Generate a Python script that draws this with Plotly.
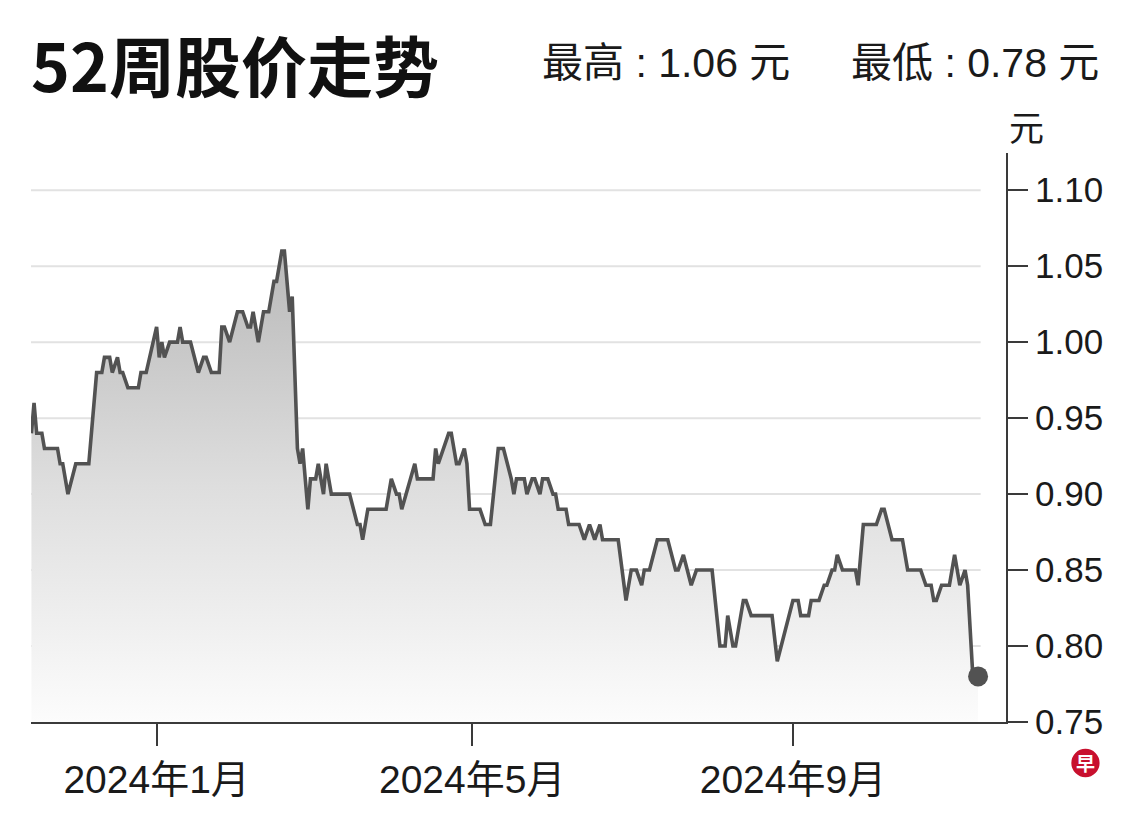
import plotly.graph_objects as go

title_text = "52周股价走势"
high_text = "最高 : 1.06 元"
low_text = "最低 : 0.78 元"
unit_text = "元"

dates = [
    "2023-11-14", "2023-11-15", "2023-11-16", "2023-11-18", "2023-11-19", "2023-11-24", "2023-11-25",
    "2023-11-26", "2023-11-28", "2023-12-01", "2023-12-06", "2023-12-09", "2023-12-11", "2023-12-12",
    "2023-12-14", "2023-12-15", "2023-12-17", "2023-12-18", "2023-12-19", "2023-12-21", "2023-12-25",
    "2023-12-26", "2023-12-28", "2024-01-01", "2024-01-02", "2024-01-03", "2024-01-04", "2024-01-06",
    "2024-01-09", "2024-01-10", "2024-01-11", "2024-01-14", "2024-01-17", "2024-01-19", "2024-01-20",
    "2024-01-22", "2024-01-25", "2024-01-26", "2024-01-27", "2024-01-29", "2024-02-01", "2024-02-03",
    "2024-02-05", "2024-02-06", "2024-02-07", "2024-02-09", "2024-02-11", "2024-02-13", "2024-02-15",
    "2024-02-16", "2024-02-18", "2024-02-19", "2024-02-21", "2024-02-22", "2024-02-24", "2024-02-25",
    "2024-02-26", "2024-02-28", "2024-02-29", "2024-03-02", "2024-03-03", "2024-03-05", "2024-03-06",
    "2024-03-08", "2024-03-15", "2024-03-18", "2024-03-19", "2024-03-20", "2024-03-22", "2024-03-29",
    "2024-03-31", "2024-04-02", "2024-04-03", "2024-04-04", "2024-04-09", "2024-04-10", "2024-04-16",
    "2024-04-17", "2024-04-18", "2024-04-22", "2024-04-23", "2024-04-25", "2024-04-26", "2024-04-28",
    "2024-04-29", "2024-04-30", "2024-05-04", "2024-05-06", "2024-05-08", "2024-05-11", "2024-05-13",
    "2024-05-16", "2024-05-17", "2024-05-18", "2024-05-21", "2024-05-22", "2024-05-24", "2024-05-25",
    "2024-05-27", "2024-05-28", "2024-05-30", "2024-06-01", "2024-06-02", "2024-06-03", "2024-06-06",
    "2024-06-07", "2024-06-11", "2024-06-13", "2024-06-15", "2024-06-17", "2024-06-19", "2024-06-20",
    "2024-06-26", "2024-06-29", "2024-07-01", "2024-07-03", "2024-07-05", "2024-07-06", "2024-07-08",
    "2024-07-11", "2024-07-15", "2024-07-18", "2024-07-19", "2024-07-21", "2024-07-24", "2024-07-26",
    "2024-08-01", "2024-08-04", "2024-08-06", "2024-08-07", "2024-08-09", "2024-08-10", "2024-08-13",
    "2024-08-14", "2024-08-16", "2024-08-24", "2024-08-26", "2024-09-01", "2024-09-03", "2024-09-04",
    "2024-09-07", "2024-09-08", "2024-09-11", "2024-09-13", "2024-09-14", "2024-09-16", "2024-09-17",
    "2024-09-18", "2024-09-20", "2024-09-25", "2024-09-26", "2024-09-28", "2024-10-03", "2024-10-05",
    "2024-10-06", "2024-10-09", "2024-10-13", "2024-10-15", "2024-10-20", "2024-10-22", "2024-10-24",
    "2024-10-25", "2024-10-26", "2024-10-28", "2024-10-31", "2024-11-02", "2024-11-04", "2024-11-06",
    "2024-11-07", "2024-11-09", "2024-11-11",
]

prices = [
    0.94, 0.96, 0.94, 0.94, 0.93, 0.93, 0.92,
    0.92, 0.90, 0.92, 0.92, 0.98, 0.98, 0.99,
    0.99, 0.98, 0.99, 0.98, 0.98, 0.97, 0.97,
    0.98, 0.98, 1.01, 0.99, 1.00, 0.99, 1.00,
    1.00, 1.01, 1.00, 1.00, 0.98, 0.99, 0.99,
    0.98, 0.98, 1.01, 1.01, 1.00, 1.02, 1.02,
    1.01, 1.01, 1.02, 1.00, 1.02, 1.02, 1.04,
    1.04, 1.06, 1.06, 1.02, 1.03, 0.93, 0.92,
    0.93, 0.89, 0.91, 0.91, 0.92, 0.90, 0.92,
    0.90, 0.90, 0.88, 0.88, 0.87, 0.89, 0.89,
    0.91, 0.90, 0.90, 0.89, 0.92, 0.91, 0.91,
    0.93, 0.92, 0.94, 0.94, 0.92, 0.92, 0.93,
    0.92, 0.89, 0.89, 0.88, 0.88, 0.93, 0.93,
    0.91, 0.90, 0.91, 0.91, 0.90, 0.91, 0.91,
    0.90, 0.91, 0.91, 0.90, 0.90, 0.89, 0.89,
    0.88, 0.88, 0.87, 0.88, 0.87, 0.88, 0.87,
    0.87, 0.83, 0.85, 0.85, 0.84, 0.85, 0.85,
    0.87, 0.87, 0.85, 0.85, 0.86, 0.84, 0.85,
    0.85, 0.80, 0.80, 0.82, 0.80, 0.80, 0.83,
    0.83, 0.82, 0.82, 0.79, 0.83, 0.83, 0.82,
    0.82, 0.83, 0.83, 0.84, 0.84, 0.85, 0.85,
    0.86, 0.85, 0.85, 0.84, 0.88, 0.88, 0.89,
    0.89, 0.87, 0.87, 0.85, 0.85, 0.84, 0.84,
    0.83, 0.83, 0.84, 0.84, 0.86, 0.84, 0.85,
    0.84, 0.78, 0.78,
]

x_tick_vals = ["2024-01-01", "2024-05-01", "2024-09-01"]
x_tick_text = ["2024年1月", "2024年5月", "2024年9月"]
y_tick_vals = [0.75, 0.80, 0.85, 0.90, 0.95, 1.00, 1.05, 1.10]
y_tick_text = ["0.75", "0.80", "0.85", "0.90", "0.95", "1.00", "1.05", "1.10"]

LINE = "#525252"
AXIS = "#3a3a3a"
TXT = "#1a1a1a"
NUMFONT = "Liberation Sans, Arial, Noto Sans CJK SC, sans-serif"
CJKFONT = "Noto Sans CJK SC, sans-serif"

fig = go.Figure()

fig.add_trace(go.Scatter(
    x=dates, y=prices, mode="lines",
    line=dict(color=LINE, width=3.6, shape="linear"),
    fill="tozeroy",
    fillgradient=dict(type="vertical", start=0.755, stop=1.06,
                      colorscale=[[0, "rgba(252,252,252,1)"], [0.5, "rgba(222,222,222,1)"], [1, "rgba(185,185,185,1)"]]),
    hoverinfo="skip", showlegend=False,
))

fig.add_trace(go.Scatter(
    x=[dates[-1]], y=[prices[-1]], mode="markers",
    marker=dict(color=LINE, size=20, line=dict(width=0)),
    hoverinfo="skip", showlegend=False,
))

# horizontal grid lines (end short of the axis, as in the reference)
shapes = []
for v in y_tick_vals[1:]:
    shapes.append(dict(type="line", xref="paper", yref="y", x0=0, x1=0.974, y0=v, y1=v,
                       line=dict(color="#e2e2e2", width=2), layer="below"))

# logo circle
shapes.append(dict(type="circle", xref="paper", yref="paper",
                   x0=1.067, x1=1.096, y0=-0.097, y1=-0.047,
                   fillcolor="#c8102e", line=dict(width=0)))

fig.update_layout(
    width=1124, height=805,
    margin=dict(l=23, r=126, t=145, b=83),
    paper_bgcolor="white", plot_bgcolor="white",
    shapes=shapes,
    xaxis=dict(
        type="date",
        range=["2023-11-13T20:00", "2024-11-21T17:00"],
        tickvals=x_tick_vals, ticktext=x_tick_text,
        ticks="outside", ticklen=22, tickwidth=2, tickcolor=AXIS,
        showline=True, linecolor=AXIS, linewidth=2,
        showgrid=False, zeroline=False,
        tickfont=dict(family=NUMFONT, size=39, color=TXT),
        fixedrange=True,
    ),
    yaxis=dict(
        side="right",
        range=[0.75, 1.1245],
        tickvals=y_tick_vals, ticktext=y_tick_text,
        ticks="outside", ticklen=20, tickwidth=2, tickcolor=AXIS,
        showline=True, linecolor=AXIS, linewidth=2,
        showgrid=False, zeroline=False,
        tickfont=dict(family=NUMFONT, size=35, color=TXT),
        fixedrange=True,
    ),
    annotations=[
        dict(text="<b>" + title_text + "</b>", xref="paper", yref="paper",
             x=-0.002, y=1.158, xanchor="left", yanchor="middle", showarrow=False,
             font=dict(family=CJKFONT, size=66, color="#111111")),
        dict(text=high_text, xref="paper", yref="paper",
             x=0.522, y=1.158, xanchor="left", yanchor="middle", showarrow=False,
             font=dict(family=NUMFONT, size=41, color=TXT)),
        dict(text=low_text, xref="paper", yref="paper",
             x=1.097, y=1.158, xanchor="right", yanchor="middle", showarrow=False,
             font=dict(family=NUMFONT, size=41, color=TXT)),
        dict(text=unit_text, xref="paper", yref="paper",
             x=1.021, y=1.0, xanchor="center", yanchor="bottom", showarrow=False,
             font=dict(family=CJKFONT, size=35, color=TXT)),
        dict(text="<b>早</b>", xref="paper", yref="paper",
             x=1.0815, y=-0.072, xanchor="center", yanchor="middle", showarrow=False,
             font=dict(family=CJKFONT, size=19, color="white")),
    ],
)

fig.write_html("out.html")
